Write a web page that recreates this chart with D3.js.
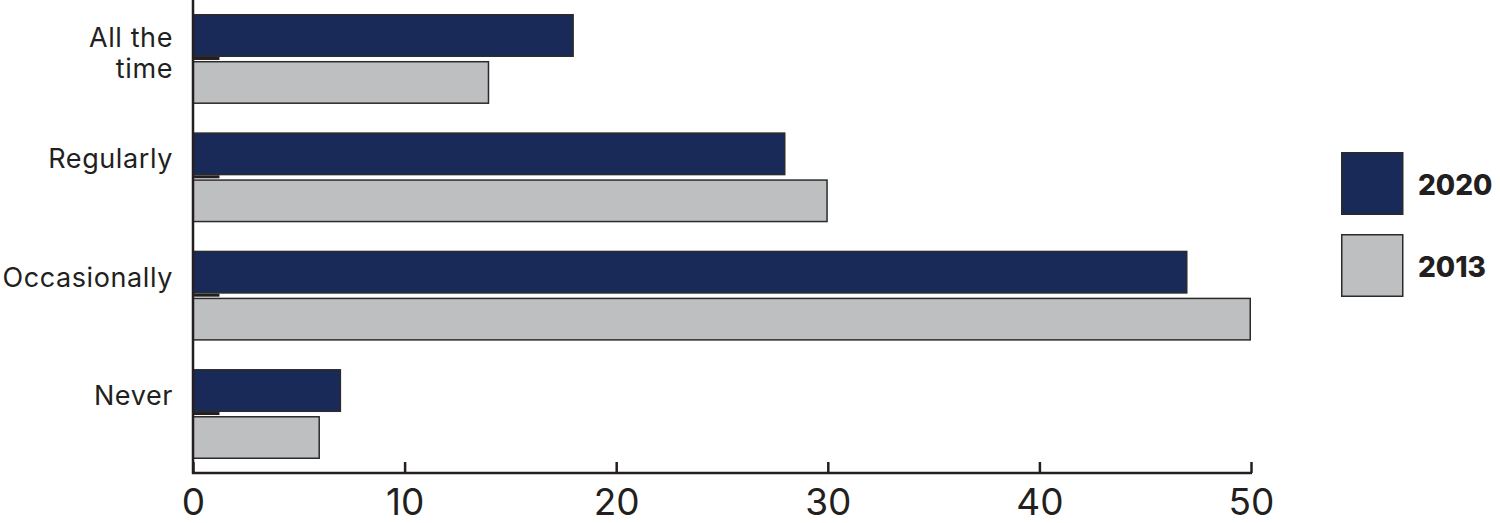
<!DOCTYPE html>
<html><head><meta charset="utf-8">
<script src="https://cdn.jsdelivr.net/npm/d3@7"></script>
<style>body{margin:0;background:#fff}svg{display:block}</style>
</head><body>
<svg id="c" width="1500" height="523"></svg>
<script>
const categories = ["All the time", "Regularly", "Occasionally", "Never"];
const series = ["2020", "2013"];
const values2020 = [18, 28, 47, 7];
const values2013 = [14, 30, 50, 6];
const marker = [1.25, 1.25, 1.25, 1.25];
const ticks = [0, 10, 20, 30, 40, 50];
const colors = {"2020": "#1a2a58", "2013": "#bebfc1"};

const svg = d3.select("#c");
const txt = "#231f20";
const font = "Inter, Lato, sans-serif";

const x = d3.scaleLinear().domain([0, 50]).range([193, 1251]);
const y = d3.scaleBand().domain(categories).range([14, 459]).paddingInner(0.24).paddingOuter(0);
const yi = d3.scaleBand().domain(series).range([0, y.bandwidth()]).paddingInner(0.085);

const data = categories.map((c, i) => ({c, v: {"2020": values2020[i], "2013": values2013[i]}, m: marker[i]}));

const g = svg.selectAll("g.cat").data(data).join("g").attr("class", "cat")
  .attr("transform", d => `translate(0,${y(d.c)})`);

series.forEach(s => {
  g.append("rect")
    .attr("x", x(0))
    .attr("y", yi(s) + 0.75)
    .attr("width", d => x(d.v[s]) - x(0) - 0.75)
    .attr("height", yi.bandwidth() - 1.5)
    .attr("fill", colors[s])
    .attr("stroke", "#2b2b2b")
    .attr("stroke-width", 1.5);
});
g.append("rect")
  .attr("x", x(0))
  .attr("y", yi("2020") + yi.bandwidth())
  .attr("width", d => x(d.m) - x(0))
  .attr("height", 3)
  .attr("fill", "#231f20");

// Category labels
const lab = svg.append("g").attr("font-family", font).attr("font-size", 27).attr("letter-spacing", 0.6)
  .attr("fill", txt).attr("text-anchor", "end");
data.forEach(d => {
  const words = d.c === "All the time" ? ["All the", "time"] : [d.c];
  const base = y(d.c);
  if (words.length === 2) {
    lab.append("text").attr("x", 173).attr("y", base + 33).text(words[0]);
    lab.append("text").attr("x", 173).attr("y", base + 64).text(words[1]);
  } else {
    lab.append("text").attr("x", 173).attr("y", base + 36).text(words[0]);
  }
});

// Axes
svg.append("line").attr("x1", 193).attr("x2", 193).attr("y1", 0).attr("y2", 474)
  .attr("stroke", txt).attr("stroke-width", 2.5);
const xAxis = d3.axisBottom(x).tickValues(ticks).tickSize(0).tickFormat(d3.format("d"));
const ax = svg.append("g").attr("transform", "translate(0,473)").call(xAxis);
ax.select(".domain").remove();
ax.append("line").attr("x1", 192).attr("x2", x(50) + 1).attr("y1", 0).attr("y2", 0)
  .attr("stroke", txt).attr("stroke-width", 2.5);
ax.selectAll(".tick").append("line").attr("y1", 0).attr("y2", -11)
  .attr("stroke", txt).attr("stroke-width", 2.5);
ax.selectAll(".tick text").attr("font-family", font).attr("font-size", 37)
  .attr("fill", txt).attr("dy", 0).attr("y", 42);

// Legend
const leg = svg.append("g");
const legY = [152, 234];
series.forEach((s, i) => {
  leg.append("rect").attr("x", 1341.75).attr("y", legY[i] + 0.75).attr("width", 61).attr("height", 61.5)
    .attr("fill", colors[s]).attr("stroke", "#2b2b2b").attr("stroke-width", 1.5);
  leg.append("text").attr("x", 1418).attr("y", legY[i] + 43).text(s)
    .attr("font-family", font).attr("font-weight", 800).attr("font-size", 28).attr("fill", txt);
});
</script>
</body></html>
